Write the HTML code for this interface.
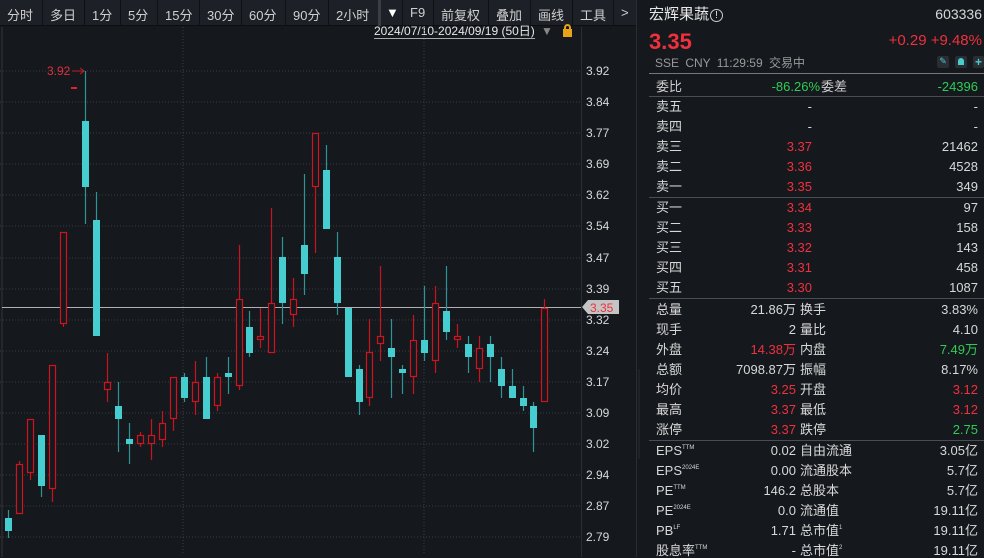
<!DOCTYPE html>
<html><head><meta charset="utf-8"><style>
*{margin:0;padding:0;box-sizing:border-box}
body{width:984px;height:557px;background:#15181d;overflow:hidden;position:relative;font-family:"Liberation Sans","Noto Sans CJK SC",sans-serif;color:#d8d8d8}
.tb{position:absolute;left:0;top:0;width:636px;height:26px;background:#1d2026;border-bottom:1px solid #0c0e11}
.tb span{position:absolute;top:5px;font-size:13px;color:#d0d0d0}
.sepv{position:absolute;top:0;width:1px;height:26px;background:#0e1013}
.p{position:absolute;font-size:13px;line-height:15px;white-space:nowrap}
.r{text-align:right}
.red{color:#f0303c}.grn{color:#2ecc55}
.hl{position:absolute;left:649px;width:335px;height:1px;background:#4a4d52}
sup{font-size:6px;vertical-align:6px;line-height:0}
</style></head><body>
<div class="tb">
<span style="left:7px">分时</span><span style="left:50px">多日</span><span style="left:92px">1分</span><span style="left:128px">5分</span><span style="left:165px">15分</span><span style="left:207px">30分</span><span style="left:249px">60分</span><span style="left:293px">90分</span><span style="left:336px">2小时</span><span style="left:386px;color:#fff">▼</span><span style="left:410px">F9</span><span style="left:441px">前复权</span><span style="left:496px">叠加</span><span style="left:538px">画线</span><span style="left:580px">工具</span><span style="left:621px">&gt;</span>
<div class="sepv" style="left:42px"></div><div class="sepv" style="left:84px"></div><div class="sepv" style="left:120px"></div><div class="sepv" style="left:157px"></div><div class="sepv" style="left:199px"></div><div class="sepv" style="left:241px"></div><div class="sepv" style="left:285px"></div><div class="sepv" style="left:328px"></div><div class="sepv" style="left:378px;width:3px;background:#3a3d42"></div><div class="sepv" style="left:402px"></div><div class="sepv" style="left:433px"></div><div class="sepv" style="left:488px"></div><div class="sepv" style="left:530px"></div><div class="sepv" style="left:572px"></div><div class="sepv" style="left:613px"></div>
</div>
<div class="p" style="left:374px;top:24px;font-size:12px;color:#e8e8e8;border-bottom:1px solid #aaa;line-height:14px">2024/07/10-2024/09/19 (50日)</div>
<div class="p" style="left:541px;top:24px;color:#888;font-size:12px">▼</div>
<div style="position:absolute;left:563px;top:29px;width:9px;height:8px;background:#e8a317"></div>
<div style="position:absolute;left:564px;top:24px;width:7px;height:7px;border:2px solid #e8a317;border-bottom:none;border-radius:4px 4px 0 0"></div>

<svg style="position:absolute;left:0;top:0" width="640" height="557">
<g stroke="#3a3d42" stroke-dasharray="1,2" stroke-width="1">
<line x1="0" y1="71" x2="581" y2="71"/><line x1="0" y1="102" x2="581" y2="102"/><line x1="0" y1="133" x2="581" y2="133"/><line x1="0" y1="164" x2="581" y2="164"/><line x1="0" y1="195" x2="581" y2="195"/><line x1="0" y1="226" x2="581" y2="226"/><line x1="0" y1="258" x2="581" y2="258"/><line x1="0" y1="289" x2="581" y2="289"/><line x1="0" y1="320" x2="581" y2="320"/><line x1="0" y1="351" x2="581" y2="351"/><line x1="0" y1="382" x2="581" y2="382"/><line x1="0" y1="413" x2="581" y2="413"/><line x1="0" y1="444" x2="581" y2="444"/><line x1="0" y1="475" x2="581" y2="475"/><line x1="0" y1="506" x2="581" y2="506"/><line x1="0" y1="537" x2="581" y2="537"/>
<line x1="183" y1="27" x2="183" y2="554"/><line x1="424" y1="27" x2="424" y2="554"/>
</g>
<line x1="2" y1="27" x2="2" y2="557" stroke="#24272c" stroke-width="2"/>
<line x1="581.5" y1="27" x2="581.5" y2="557" stroke="#2a2d32"/>
<line x1="636.5" y1="0" x2="636.5" y2="557" stroke="#2a2d32"/>
<line x1="2" y1="307.5" x2="581" y2="307.5" stroke="#b0b0b0"/>
<g font-family="Liberation Sans" font-size="12" fill="#d8d8d8">
<text x="586" y="75">3.92</text><text x="586" y="106">3.84</text><text x="586" y="137">3.77</text><text x="586" y="168">3.69</text><text x="586" y="199">3.62</text><text x="586" y="230">3.54</text><text x="586" y="262">3.47</text><text x="586" y="293">3.39</text><text x="586" y="324">3.32</text><text x="586" y="355">3.24</text><text x="586" y="386">3.17</text><text x="586" y="417">3.09</text><text x="586" y="448">3.02</text><text x="586" y="479">2.94</text><text x="586" y="510">2.87</text><text x="586" y="541">2.79</text>
</g>
<polygon points="582,307 588,300 619,300 619,314 588,314" fill="#c4c4c4"/>
<text x="590" y="312" font-family="Liberation Sans" font-size="12" fill="#f0303c">3.35</text>
<text x="47" y="75" font-family="Liberation Sans" font-size="12" fill="#e0303a">3.92</text>
<line x1="72" y1="71" x2="84" y2="71" stroke="#c02028"/><polyline points="80,68 84,71 80,74" fill="none" stroke="#c02028"/>
<line x1="71" y1="88" x2="77" y2="88" stroke="#e02030" stroke-width="2"/>
<g stroke="#2e9597" stroke-width="1.2">
<line x1="8.5" y1="510" x2="8.5" y2="538"/><line x1="41.5" y1="435" x2="41.5" y2="497"/><line x1="85.5" y1="71" x2="85.5" y2="224"/><line x1="96.5" y1="192" x2="96.5" y2="336"/><line x1="118.5" y1="382" x2="118.5" y2="452"/><line x1="129.5" y1="423" x2="129.5" y2="464"/><line x1="184.5" y1="373" x2="184.5" y2="402"/><line x1="206.5" y1="357" x2="206.5" y2="419"/><line x1="228.5" y1="357" x2="228.5" y2="394"/><line x1="249.5" y1="311" x2="249.5" y2="357"/><line x1="282.5" y1="237" x2="282.5" y2="324"/><line x1="304.5" y1="174" x2="304.5" y2="295"/><line x1="326.5" y1="145" x2="326.5" y2="229"/><line x1="337.5" y1="232" x2="337.5" y2="315"/><line x1="359.5" y1="365" x2="359.5" y2="415"/><line x1="391.5" y1="319" x2="391.5" y2="398"/><line x1="402.5" y1="365" x2="402.5" y2="394"/><line x1="424.5" y1="286" x2="424.5" y2="361"/><line x1="446.5" y1="266" x2="446.5" y2="340"/><line x1="468.5" y1="336" x2="468.5" y2="373"/><line x1="490.5" y1="336" x2="490.5" y2="382"/><line x1="501.5" y1="357" x2="501.5" y2="398"/><line x1="512.5" y1="369" x2="512.5" y2="398"/><line x1="523.5" y1="386" x2="523.5" y2="411"/><line x1="533.5" y1="402" x2="533.5" y2="452"/>
</g>
<g fill="#45cdcf">
<rect x="5" y="518" width="7" height="13"/><rect x="38" y="435" width="7" height="51"/><rect x="82" y="121" width="7" height="66"/><rect x="93" y="220" width="7" height="116"/><rect x="115" y="406" width="7" height="13"/><rect x="126" y="439" width="7" height="5"/><rect x="181" y="377" width="7" height="21"/><rect x="203" y="377" width="7" height="42"/><rect x="225" y="373" width="7" height="4"/><rect x="246" y="327" width="7" height="26"/><rect x="279" y="257" width="7" height="46"/><rect x="301" y="245" width="7" height="29"/><rect x="323" y="170" width="7" height="59"/><rect x="334" y="257" width="7" height="46"/><rect x="345" y="308" width="7" height="69"/><rect x="356" y="369" width="7" height="33"/><rect x="388" y="348" width="7" height="9"/><rect x="399" y="369" width="7" height="4"/><rect x="421" y="340" width="7" height="13"/><rect x="443" y="311" width="7" height="21"/><rect x="465" y="344" width="7" height="13"/><rect x="487" y="344" width="7" height="13"/><rect x="498" y="369" width="7" height="17"/><rect x="509" y="386" width="7" height="12"/><rect x="520" y="398" width="7" height="8"/><rect x="530" y="406" width="7" height="22"/>
</g>
<g stroke="#c8141e" stroke-width="1.2">
<line x1="19.5" y1="461" x2="19.5" y2="514"/><line x1="30.5" y1="419" x2="30.5" y2="480"/><line x1="52.5" y1="365" x2="52.5" y2="502"/><line x1="63.5" y1="232" x2="63.5" y2="327"/><line x1="107.5" y1="353" x2="107.5" y2="402"/><line x1="140.5" y1="432" x2="140.5" y2="447"/><line x1="151.5" y1="419" x2="151.5" y2="460"/><line x1="162.5" y1="411" x2="162.5" y2="447"/><line x1="173.5" y1="377" x2="173.5" y2="431"/><line x1="195.5" y1="361" x2="195.5" y2="415"/><line x1="217.5" y1="373" x2="217.5" y2="411"/><line x1="239.5" y1="245" x2="239.5" y2="390"/><line x1="260.5" y1="308" x2="260.5" y2="348"/><line x1="271.5" y1="208" x2="271.5" y2="353"/><line x1="293.5" y1="278" x2="293.5" y2="327"/><line x1="315.5" y1="133" x2="315.5" y2="253"/><line x1="369.5" y1="319" x2="369.5" y2="406"/><line x1="380.5" y1="266" x2="380.5" y2="361"/><line x1="413.5" y1="315" x2="413.5" y2="394"/><line x1="435.5" y1="286" x2="435.5" y2="373"/><line x1="457.5" y1="324" x2="457.5" y2="348"/><line x1="479.5" y1="336" x2="479.5" y2="382"/><line x1="544.5" y1="299" x2="544.5" y2="402"/>
</g>
<g stroke="#d0141f" stroke-width="1.2" fill="#15181d">
<rect x="16.5" y="464.5" width="6" height="49"/><rect x="27.5" y="419.5" width="6" height="53"/><rect x="49.5" y="365.5" width="6" height="123"/><rect x="60.5" y="232.5" width="6" height="91"/><rect x="104.5" y="382.5" width="6" height="7"/><rect x="137.5" y="435.5" width="6" height="8"/><rect x="148.5" y="435.5" width="6" height="8"/><rect x="159.5" y="423.5" width="6" height="16"/><rect x="170.5" y="377.5" width="6" height="41"/><rect x="192.5" y="382.5" width="6" height="19"/><rect x="214.5" y="377.5" width="6" height="28"/><rect x="236.5" y="299.5" width="6" height="86"/><rect x="257.5" y="336.5" width="6" height="3"/><rect x="268.5" y="303.5" width="6" height="49"/><rect x="290.5" y="299.5" width="6" height="15"/><rect x="312.5" y="133.5" width="6" height="53"/><rect x="366.5" y="352.5" width="6" height="45"/><rect x="377.5" y="336.5" width="6" height="7"/><rect x="410.5" y="340.5" width="6" height="36"/><rect x="432.5" y="303.5" width="6" height="57"/><rect x="454.5" y="336.5" width="6" height="3"/><rect x="476.5" y="348.5" width="6" height="20"/><rect x="541.5" y="308.5" width="6" height="93"/>
</g>
<rect x="638" y="369" width="8" height="90" fill="#1f2227"/>
<polygon points="640,417 645,420 640,423" fill="#aaa"/>
</svg>

<div class="p" style="left:649px;top:6px;font-size:15px;line-height:18px;color:#e8e8e8">宏辉果蔬<span style="display:inline-block;width:13px;height:13px;border:1px solid #ccc;border-radius:50%;font-size:10px;text-align:center;line-height:11px;vertical-align:1px;margin-left:1px">!</span></div>
<div class="p r" style="right:2px;top:7px;font-size:14px">603336</div>
<div class="p red" style="left:649px;top:30px;font-size:22px;line-height:24px;font-weight:bold">3.35</div>
<div class="p red r" style="right:2px;top:32px;font-size:15px;line-height:18px">+0.29 +9.48%</div>
<div class="p" style="left:655px;top:56px;font-size:12px;color:#9a9a9a;word-spacing:3px">SSE CNY 11:29:59 交易中</div>
<div style="position:absolute;left:937px;top:56px;width:12px;height:12px;background:#2a2d32;border-radius:2px;color:#45cdcf;font-size:9px;text-align:center">✎</div>
<div style="position:absolute;left:955px;top:56px;width:12px;height:12px;background:#2a2d32;border-radius:2px"><div style="margin:2px 3px;width:6px;height:7px;background:#45cdcf;border-radius:3px 3px 0 0"></div></div>
<div style="position:absolute;left:973px;top:56px;width:11px;height:12px;background:#2a2d32;border-radius:2px;color:#45cdcf;font-size:12px;line-height:12px;text-align:center;font-weight:bold">+</div>
<div class="hl" style="top:73px;background:#777"></div>
<div class="p" style="left:656px;top:79px;color:#ccc">委比</div><div class="p grn r" style="right:164px;top:79px">-86.26%</div><div class="p" style="left:821px;top:79px;color:#ccc">委差</div><div class="p grn r" style="right:6px;top:79px">-24396</div>
<div class="hl" style="top:96px"></div>
<div class="hl" style="top:197px"></div>
<div class="hl" style="top:298px"></div>
<div class="hl" style="top:440px"></div>
<div class="p" style="left:656px;top:99px">卖五</div><div class="p r" style="right:172px;top:99px">-</div><div class="p r" style="right:6px;top:99px">-</div>
<div class="p" style="left:656px;top:119px">卖四</div><div class="p r" style="right:172px;top:119px">-</div><div class="p r" style="right:6px;top:119px">-</div>
<div class="p" style="left:656px;top:139px">卖三</div><div class="p red r" style="right:172px;top:139px">3.37</div><div class="p r" style="right:6px;top:139px">21462</div>
<div class="p" style="left:656px;top:159px">卖二</div><div class="p red r" style="right:172px;top:159px">3.36</div><div class="p r" style="right:6px;top:159px">4528</div>
<div class="p" style="left:656px;top:179px">卖一</div><div class="p red r" style="right:172px;top:179px">3.35</div><div class="p r" style="right:6px;top:179px">349</div>
<div class="p" style="left:656px;top:200px">买一</div><div class="p red r" style="right:172px;top:200px">3.34</div><div class="p r" style="right:6px;top:200px">97</div>
<div class="p" style="left:656px;top:220px">买二</div><div class="p red r" style="right:172px;top:220px">3.33</div><div class="p r" style="right:6px;top:220px">158</div>
<div class="p" style="left:656px;top:240px">买三</div><div class="p red r" style="right:172px;top:240px">3.32</div><div class="p r" style="right:6px;top:240px">143</div>
<div class="p" style="left:656px;top:260px">买四</div><div class="p red r" style="right:172px;top:260px">3.31</div><div class="p r" style="right:6px;top:260px">458</div>
<div class="p" style="left:656px;top:280px">买五</div><div class="p red r" style="right:172px;top:280px">3.30</div><div class="p r" style="right:6px;top:280px">1087</div>

<div class="p" style="left:656px;top:302px">总量</div><div class="p r" style="right:188px;top:302px">21.86万</div><div class="p" style="left:800px;top:302px">换手</div><div class="p r" style="right:6px;top:302px">3.83%</div>
<div class="p" style="left:656px;top:322px">现手</div><div class="p r" style="right:188px;top:322px">2</div><div class="p" style="left:800px;top:322px">量比</div><div class="p r" style="right:6px;top:322px">4.10</div>
<div class="p" style="left:656px;top:342px">外盘</div><div class="p red r" style="right:188px;top:342px">14.38万</div><div class="p" style="left:800px;top:342px">内盘</div><div class="p grn r" style="right:6px;top:342px">7.49万</div>
<div class="p" style="left:656px;top:362px">总额</div><div class="p r" style="right:188px;top:362px">7098.87万</div><div class="p" style="left:800px;top:362px">振幅</div><div class="p r" style="right:6px;top:362px">8.17%</div>
<div class="p" style="left:656px;top:382px">均价</div><div class="p red r" style="right:188px;top:382px">3.25</div><div class="p" style="left:800px;top:382px">开盘</div><div class="p red r" style="right:6px;top:382px">3.12</div>
<div class="p" style="left:656px;top:402px">最高</div><div class="p red r" style="right:188px;top:402px">3.37</div><div class="p" style="left:800px;top:402px">最低</div><div class="p red r" style="right:6px;top:402px">3.12</div>
<div class="p" style="left:656px;top:422px">涨停</div><div class="p red r" style="right:188px;top:422px">3.37</div><div class="p" style="left:800px;top:422px">跌停</div><div class="p grn r" style="right:6px;top:422px">2.75</div>

<div class="p" style="left:656px;top:443px">EPS<sup>TTM</sup></div><div class="p r" style="right:188px;top:443px">0.02</div><div class="p" style="left:800px;top:443px">自由流通</div><div class="p r" style="right:6px;top:443px">3.05亿</div>
<div class="p" style="left:656px;top:463px">EPS<sup>2024E</sup></div><div class="p r" style="right:188px;top:463px">0.00</div><div class="p" style="left:800px;top:463px">流通股本</div><div class="p r" style="right:6px;top:463px">5.7亿</div>
<div class="p" style="left:656px;top:483px">PE<sup>TTM</sup></div><div class="p r" style="right:188px;top:483px">146.2</div><div class="p" style="left:800px;top:483px">总股本</div><div class="p r" style="right:6px;top:483px">5.7亿</div>
<div class="p" style="left:656px;top:503px">PE<sup>2024E</sup></div><div class="p r" style="right:188px;top:503px">0.0</div><div class="p" style="left:800px;top:503px">流通值</div><div class="p r" style="right:6px;top:503px">19.11亿</div>
<div class="p" style="left:656px;top:523px">PB<sup>LF</sup></div><div class="p r" style="right:188px;top:523px">1.71</div><div class="p" style="left:800px;top:523px">总市值<sup>1</sup></div><div class="p r" style="right:6px;top:523px">19.11亿</div>
<div class="p" style="left:656px;top:543px">股息率<sup>TTM</sup></div><div class="p r" style="right:188px;top:543px">-</div><div class="p" style="left:800px;top:543px">总市值<sup>2</sup></div><div class="p r" style="right:6px;top:543px">19.11亿</div>
</body></html>
